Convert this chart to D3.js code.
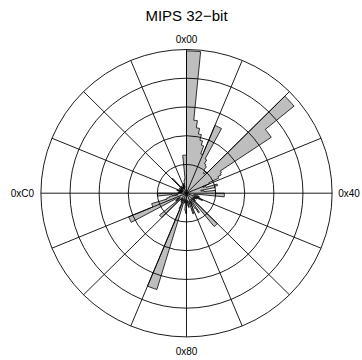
<!DOCTYPE html>
<html>
<head>
<meta charset="utf-8">
<script src="https://cdn.jsdelivr.net/npm/d3@7"></script>
<style>
  html, body { margin: 0; padding: 0; background: #fff; }
  svg { display: block; }
  text { font-family: "Liberation Sans", Arial, Helvetica, sans-serif; fill: #000; }
</style>
</head>
<body>
<svg id="chart" width="362" height="360"></svg>
<script>
// ---- data ----
const title = "MIPS 32\u2212bit";
const bytesPerBin = 2;
// relative frequency per bin of 2 byte values (0x00..0xFF), max scaled to 1
const freq = [
  0.99, 0.99, 0.51, 0.46, 0.42, 0.38, 0.35, 0.29,
  0.51, 0.51, 0.27, 0.24, 0.23, 0.20, 0.18, 0.20,
  0.955, 0.955, 0.70, 0.70, 0.28, 0.27, 0.245, 0.17,
  0.12, 0.14, 0.22, 0.20, 0.10, 0.12, 0.20, 0.20,
  0.26, 0.26, 0.08, 0.06, 0.05, 0.09, 0.07, 0.10,
  0.12, 0.06, 0.08, 0.05, 0.07, 0.06, 0.08, 0.05,
  0.30, 0.30, 0.07, 0.05, 0.16, 0.12, 0.06, 0.09,
  0.11, 0.15, 0.06, 0.08, 0.10, 0.05, 0.07, 0.09,
  0.14, 0.12, 0.05, 0.07, 0.04, 0.06, 0.70, 0.70,
  0.12, 0.08, 0.05, 0.07, 0.04, 0.06, 0.05, 0.07,
  0.24, 0.24, 0.06, 0.09, 0.05, 0.08, 0.43, 0.43,
  0.25, 0.25, 0.14, 0.12, 0.06, 0.10, 0.20, 0.20,
  0.05, 0.03, 0.06, 0.04, 0.05, 0.03, 0.07, 0.04,
  0.05, 0.03, 0.04, 0.06, 0.03, 0.05, 0.04, 0.06,
  0.14, 0.05, 0.04, 0.06, 0.03, 0.05, 0.04, 0.06,
  0.05, 0.07, 0.04, 0.06, 0.09, 0.10, 0.265, 0.265
];
const ringValues = [0.2, 0.4, 0.6, 0.8, 1.0];
const spokeBytes = d3.range(0, 256, 16);
const tickBytes = [0x00, 0x40, 0x80, 0xC0];
const tickLabels = ["0x00", "0x40", "0x80", "0xC0"];

// ---- layout ----
const cx = 186.5, cy = 193.2, R = 145.6, yScale = 0.987;
const labelOffsets = [153.5, 162.5, 158, 164];

const svg = d3.select("#chart");
const ang = d3.scaleLinear().domain([0, 256]).range([0, 2 * Math.PI]);
const rad = d3.scaleLinear().domain([0, 1]).range([0, R]);

svg.append("text")
  .attr("x", cx).attr("y", 20.5)
  .attr("text-anchor", "middle")
  .style("font-size", "15px")
  .text(title);

const g = svg.append("g")
  .attr("transform", `translate(${cx},${cy}) scale(1,${yScale})`);

// bars: outline of the histogram as one star-shaped polygon
const p = d3.path();
freq.forEach((v, i) => {
  const a0 = ang(i * bytesPerBin), a1 = ang((i + 1) * bytesPerBin);
  const r = rad(v);
  const [x0, y0] = d3.pointRadial(a0, r);
  if (i === 0) p.moveTo(x0, y0); else p.lineTo(x0, y0);
  p.arc(0, 0, r, a0 - Math.PI / 2, a1 - Math.PI / 2, false);
});
p.closePath();
g.append("path")
  .attr("d", p.toString())
  .attr("fill", "#bebebe")
  .attr("stroke", "#000")
  .attr("stroke-width", 0.8)
  .attr("stroke-linejoin", "miter");

// grid on top
g.selectAll("circle.ring").data(ringValues).join("circle")
  .attr("class", "ring")
  .attr("r", d => rad(d))
  .attr("fill", "none")
  .attr("stroke", "#000")
  .attr("stroke-width", 0.9);

g.selectAll("line.spoke").data(spokeBytes).join("line")
  .attr("class", "spoke")
  .attr("x1", 0).attr("y1", 0)
  .attr("x2", d => d3.pointRadial(ang(d), rad(1))[0])
  .attr("y2", d => d3.pointRadial(ang(d), rad(1))[1])
  .attr("stroke", "#000")
  .attr("stroke-width", 0.9);

// angle labels
svg.selectAll("text.tick").data(tickBytes).join("text")
  .attr("class", "tick")
  .attr("x", (d, i) => cx + d3.pointRadial(ang(d), labelOffsets[i])[0])
  .attr("y", (d, i) => cy + d3.pointRadial(ang(d), labelOffsets[i])[1])
  .attr("text-anchor", "middle")
  .attr("dominant-baseline", "central")
  .style("font-size", "10px")
  .text((d, i) => tickLabels[i]);
</script>
</body>
</html>
